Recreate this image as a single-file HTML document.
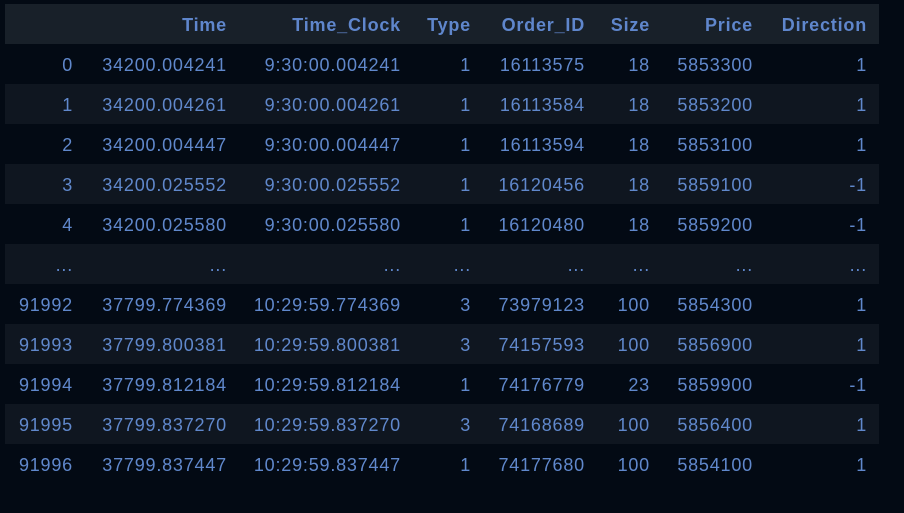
<!DOCTYPE html>
<html><head><meta charset="utf-8"><style>
html,body{margin:0;padding:0;background:#030a14;width:904px;height:513px;overflow:hidden}
table{position:absolute;left:5px;top:4px;border-collapse:collapse;table-layout:fixed;width:874px;font-family:"Liberation Sans",sans-serif;font-size:18px;letter-spacing:0.8px;color:#6088cc}
td,th{height:40px;padding:3px 6px 0 0;text-align:right;white-space:nowrap;box-sizing:border-box}
th{font-weight:bold;color:#5f86cc;letter-spacing:0.8px}
thead tr{background:#182029}
tbody tr:nth-child(even){background:#0f1620}
td:last-child,th:last-child{padding-right:12px}
</style></head><body>
<table>
<colgroup><col style="width:74px"><col style="width:154px"><col style="width:174px"><col style="width:70px"><col style="width:114px"><col style="width:65px"><col style="width:103px"><col style="width:120px"></colgroup>
<thead><tr><th></th><th>Time</th><th>Time_Clock</th><th>Type</th><th>Order_ID</th><th>Size</th><th>Price</th><th>Direction</th></tr></thead>
<tbody>
<tr><td>0</td><td>34200.004241</td><td>9:30:00.004241</td><td>1</td><td>16113575</td><td>18</td><td>5853300</td><td>1</td></tr>
<tr><td>1</td><td>34200.004261</td><td>9:30:00.004261</td><td>1</td><td>16113584</td><td>18</td><td>5853200</td><td>1</td></tr>
<tr><td>2</td><td>34200.004447</td><td>9:30:00.004447</td><td>1</td><td>16113594</td><td>18</td><td>5853100</td><td>1</td></tr>
<tr><td>3</td><td>34200.025552</td><td>9:30:00.025552</td><td>1</td><td>16120456</td><td>18</td><td>5859100</td><td>-1</td></tr>
<tr><td>4</td><td>34200.025580</td><td>9:30:00.025580</td><td>1</td><td>16120480</td><td>18</td><td>5859200</td><td>-1</td></tr>
<tr><td>...</td><td>...</td><td>...</td><td>...</td><td>...</td><td>...</td><td>...</td><td>...</td></tr>
<tr><td>91992</td><td>37799.774369</td><td>10:29:59.774369</td><td>3</td><td>73979123</td><td>100</td><td>5854300</td><td>1</td></tr>
<tr><td>91993</td><td>37799.800381</td><td>10:29:59.800381</td><td>3</td><td>74157593</td><td>100</td><td>5856900</td><td>1</td></tr>
<tr><td>91994</td><td>37799.812184</td><td>10:29:59.812184</td><td>1</td><td>74176779</td><td>23</td><td>5859900</td><td>-1</td></tr>
<tr><td>91995</td><td>37799.837270</td><td>10:29:59.837270</td><td>3</td><td>74168689</td><td>100</td><td>5856400</td><td>1</td></tr>
<tr><td>91996</td><td>37799.837447</td><td>10:29:59.837447</td><td>1</td><td>74177680</td><td>100</td><td>5854100</td><td>1</td></tr>
</tbody></table>
</body></html>
